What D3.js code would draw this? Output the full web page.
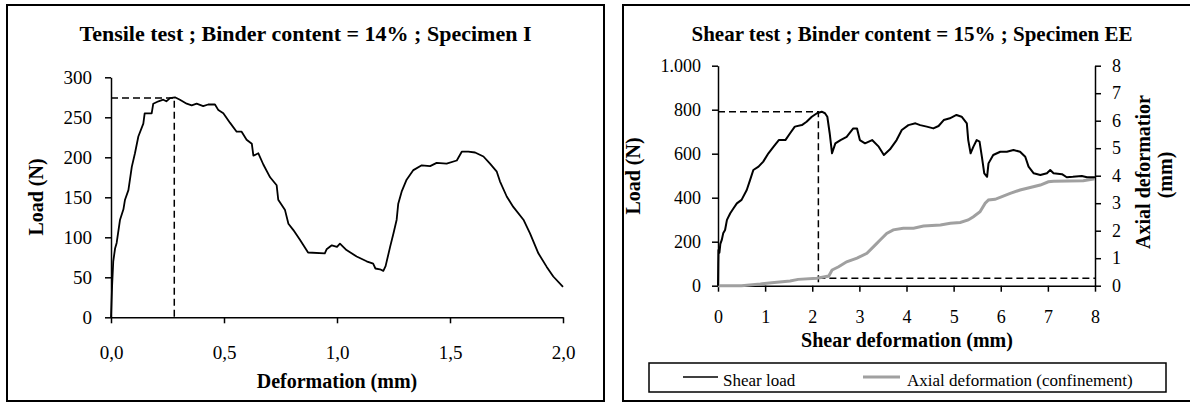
<!DOCTYPE html>
<html>
<head>
<meta charset="utf-8">
<script src="https://cdn.jsdelivr.net/npm/d3@7"></script>
<style>
body { margin: 0; background: #fff; }
text { font-family: "Liberation Serif", "Times New Roman", serif; fill: #000; }
.domain, .tick line { stroke: #000; stroke-width: 1.5; }
</style>
</head>
<body>
<svg id="chart" width="1190" height="403"></svg>
<script>
// tensile test, specimen I : deformation (mm) / load (N)
var tensileDef = [0, 0.005, 0.01, 0.018, 0.025, 0.04, 0.055, 0.062, 0.077, 0.092, 0.106, 0.121, 0.143, 0.149, 0.18, 0.187, 0.21, 0.231, 0.245, 0.261, 0.283, 0.305, 0.335, 0.357, 0.379, 0.408, 0.43, 0.46, 0.475, 0.497, 0.527, 0.556, 0.578, 0.6, 0.623, 0.63, 0.652, 0.674, 0.704, 0.733, 0.74, 0.77, 0.785, 0.807, 0.836, 0.872, 0.946, 0.954, 0.977, 1.0, 1.013, 1.042, 1.087, 1.131, 1.16, 1.17, 1.19, 1.205, 1.215, 1.235, 1.25, 1.264, 1.271, 1.286, 1.308, 1.338, 1.375, 1.412, 1.441, 1.485, 1.53, 1.552, 1.581, 1.611, 1.648, 1.677, 1.707, 1.721, 1.751, 1.78, 1.825, 1.854, 1.891, 1.928, 1.957, 2.0];
var tensileLoad = [0, 40, 70, 86, 93, 122, 135, 147, 159, 188, 205, 226, 242, 255, 255, 267, 270, 272, 270, 274, 275, 272, 267, 265, 267, 264, 266, 266, 259, 255, 243, 232, 232, 222, 217, 202, 205, 191, 175, 165, 147, 134, 117, 109, 97, 81, 80, 85, 90, 88, 92, 84, 76, 70, 67, 61, 60, 58, 64, 88, 105, 122, 142, 157, 172, 184, 190, 189, 193, 192, 196, 207, 207, 206, 201, 192, 182, 170, 151, 138, 122, 105, 80, 63, 51, 38];
var tensilePeak = [0.28, 274];
var tensileXTicks = [0, 0.5, 1, 1.5, 2];
var tensileYTicks = [0, 50, 100, 150, 200, 250, 300];

// shear test, specimen EE : shear deformation (mm) / load (N) and axial deformation (mm)
var shearDef = [0, 0.005, 0.01, 0.03, 0.05, 0.08, 0.11, 0.15, 0.19, 0.26, 0.33, 0.4, 0.5, 0.61, 0.68, 0.75, 0.86, 0.96, 1.07, 1.18, 1.29, 1.43, 1.53, 1.63, 1.78, 1.88, 1.99, 2.1, 2.2, 2.27, 2.32, 2.37, 2.42, 2.49, 2.6, 2.73, 2.87, 2.95, 3.01, 3.12, 3.27, 3.41, 3.52, 3.65, 3.79, 3.9, 4.04, 4.19, 4.29, 4.43, 4.57, 4.68, 4.79, 4.92, 5.06, 5.17, 5.28, 5.31, 5.36, 5.42, 5.49, 5.55, 5.6, 5.65, 5.71, 5.74, 5.84, 5.99, 6.13, 6.27, 6.41, 6.52, 6.59, 6.7, 6.84, 6.98, 7.05, 7.12, 7.3, 7.4, 7.53, 7.72, 7.83, 8.0];
var shearLoad = [0, 100, 162, 150, 190, 208, 238, 253, 299, 329, 352, 374, 390, 435, 480, 526, 541, 564, 602, 632, 662, 662, 693, 723, 730, 745, 768, 784, 791, 784, 768, 693, 602, 647, 662, 677, 715, 715, 662, 647, 662, 632, 594, 620, 662, 708, 730, 738, 730, 723, 715, 726, 753, 761, 776, 768, 738, 662, 602, 632, 662, 655, 586, 511, 495, 556, 594, 609, 609, 617, 609, 586, 541, 511, 503, 511, 526, 511, 507, 493, 495, 499, 493, 493];
var axialDef = [0, 0.5, 0.9, 1.14, 1.53, 1.7, 2.1, 2.35, 2.42, 2.56, 2.73, 2.95, 3.16, 3.37, 3.44, 3.58, 3.72, 3.93, 4.15, 4.36, 4.72, 4.93, 5.14, 5.31, 5.42, 5.56, 5.67, 5.74, 5.88, 6.2, 6.41, 6.84, 7.01, 7.12, 7.75, 7.97, 8.0];
var axialVal = [0, 0, 0.06, 0.11, 0.17, 0.23, 0.27, 0.35, 0.57, 0.69, 0.87, 1.0, 1.18, 1.54, 1.66, 1.9, 2.03, 2.09, 2.09, 2.17, 2.21, 2.27, 2.3, 2.39, 2.51, 2.69, 3.0, 3.12, 3.14, 3.36, 3.48, 3.66, 3.78, 3.8, 3.82, 3.88, 3.88];
var shearPeak = [2.13, 791, 0.27];
var shearXTicks = [0, 1, 2, 3, 4, 5, 6, 7, 8];
var shearYTicks = [0, 200, 400, 600, 800, 1000];
var axialTicks = [0, 1, 2, 3, 4, 5, 6, 7, 8];
var legendNames = ['Shear load', 'Axial deformation (confinement)'];

var svg = d3.select('#chart');

//panel frames
svg.append('rect').attr('x', 7).attr('y', 5).attr('width', 597).attr('height', 396)
	.attr('fill', 'none').attr('stroke', '#000').attr('stroke-width', 2);
svg.append('rect').attr('x', 623).attr('y', 5).attr('width', 580).attr('height', 396)
	.attr('fill', 'none').attr('stroke', '#000').attr('stroke-width', 2);

//---------- tensile chart ----------
var x1 = d3.scaleLinear().domain([0, 2]).range([111, 563]);
var y1 = d3.scaleLinear().domain([0, 300]).range([317.3, 77.3]);

svg.append('text').attr('x', 305.5).attr('y', 41).attr('text-anchor', 'middle')
	.style('font-size', '22px').style('font-weight', 'bold')
	.text('Tensile test ; Binder content = 14% ; Specimen I');

var ax1 = svg.append('g').attr('transform', 'translate(0,' + y1(0) + ')')
	.call(d3.axisBottom(x1).tickValues(tensileXTicks).tickSize(6).tickSizeOuter(0)
		.tickFormat(function(d) { return d3.format('.1f')(d).replace('.', ','); }));
ax1.selectAll('text').attr('y', 42).attr('dy', 0).style('font-size', '19px');

var ay1 = svg.append('g').attr('transform', 'translate(' + x1(0) + ',0)')
	.call(d3.axisLeft(y1).tickValues(tensileYTicks).tickSize(6).tickSizeOuter(0).tickPadding(13));
ay1.selectAll('text').style('font-size', '19px');

svg.append('text').attr('x', 337).attr('y', 388).attr('text-anchor', 'middle')
	.style('font-size', '20px').style('font-weight', 'bold').text('Deformation (mm)');
svg.append('text').attr('transform', 'translate(43,197) rotate(-90)').attr('text-anchor', 'middle')
	.style('font-size', '20px').style('font-weight', 'bold').text('Load (N)');

//peak marker
svg.append('path')
	.attr('d', 'M' + x1(0) + ',' + y1(tensilePeak[1]) + 'H' + x1(tensilePeak[0]) + 'V' + y1(0))
	.attr('fill', 'none').attr('stroke', '#000').attr('stroke-width', 1.5).attr('stroke-dasharray', '7,4');

var line1 = d3.line().x(function(d, i) { return x1(tensileDef[i]); }).y(function(d) { return y1(d); });
svg.append('path').attr('d', line1(tensileLoad))
	.attr('fill', 'none').attr('stroke', '#000').attr('stroke-width', 1.8).attr('stroke-linejoin', 'round');

//---------- shear chart ----------
var x2 = d3.scaleLinear().domain([0, 8]).range([718, 1095]);
var y2 = d3.scaleLinear().domain([0, 1000]).range([285.7, 65.7]);
var y3 = d3.scaleLinear().domain([0, 8]).range([285.7, 65.7]);

svg.append('text').attr('x', 912).attr('y', 41).attr('text-anchor', 'middle')
	.style('font-size', '21px').style('font-weight', 'bold')
	.text('Shear test ; Binder content = 15% ; Specimen EE');

var ax2 = svg.append('g').attr('transform', 'translate(0,' + y2(0) + ')')
	.call(d3.axisBottom(x2).tickValues(shearXTicks).tickSize(6).tickSizeOuter(0));
ax2.selectAll('text').attr('y', 37).attr('dy', 0).style('font-size', '18px');

var ay2 = svg.append('g').attr('transform', 'translate(' + x2(0) + ',0)')
	.call(d3.axisLeft(y2).tickValues(shearYTicks).tickSize(6).tickSizeOuter(0).tickPadding(11)
		.tickFormat(function(d) { return d3.format(',')(d).replace(',', '.'); }));
ay2.selectAll('text').style('font-size', '18px');

var ay3 = svg.append('g').attr('transform', 'translate(' + x2(8) + ',0)')
	.call(d3.axisRight(y3).tickValues(axialTicks).tickSize(6).tickSizeOuter(0).tickPadding(11));
ay3.selectAll('text').style('font-size', '18px');

svg.append('text').attr('x', 907).attr('y', 346.5).attr('text-anchor', 'middle')
	.style('font-size', '20px').style('font-weight', 'bold').text('Shear deformation (mm)');
svg.append('text').attr('transform', 'translate(640,176) rotate(-90)').attr('text-anchor', 'middle')
	.style('font-size', '20px').style('font-weight', 'bold').text('Load (N)');
svg.append('text').attr('transform', 'translate(1150,172) rotate(-90)').attr('text-anchor', 'middle')
	.style('font-size', '20px').style('font-weight', 'bold').text('Axial deformatior');
svg.append('text').attr('transform', 'translate(1172,175) rotate(-90)').attr('text-anchor', 'middle')
	.style('font-size', '20px').style('font-weight', 'bold').text('(mm)');

//peak markers
svg.append('path')
	.attr('d', 'M' + x2(0) + ',' + y2(shearPeak[1]) + 'H' + x2(shearPeak[0]) + 'V' + y2(0))
	.attr('fill', 'none').attr('stroke', '#000').attr('stroke-width', 1.5).attr('stroke-dasharray', '7,4');
svg.append('path')
	.attr('d', 'M' + x2(shearPeak[0]) + ',' + y3(shearPeak[2]) + 'H' + x2(8))
	.attr('fill', 'none').attr('stroke', '#000').attr('stroke-width', 1.5).attr('stroke-dasharray', '7,4');

var line3 = d3.line().x(function(d, i) { return x2(axialDef[i]); }).y(function(d) { return y3(d); });
svg.append('path').attr('d', line3(axialVal))
	.attr('fill', 'none').attr('stroke', '#a0a0a0').attr('stroke-width', 3);

var line2 = d3.line().x(function(d, i) { return x2(shearDef[i]); }).y(function(d) { return y2(d); });
svg.append('path').attr('d', line2(shearLoad))
	.attr('fill', 'none').attr('stroke', '#000').attr('stroke-width', 2).attr('stroke-linejoin', 'round');

//legend
var legend = svg.append('g');
legend.append('rect').attr('x', 649).attr('y', 363).attr('width', 517).attr('height', 29)
	.attr('fill', 'none').attr('stroke', '#000').attr('stroke-width', 1.5);
legend.append('line').attr('x1', 683).attr('x2', 718).attr('y1', 377).attr('y2', 377)
	.attr('stroke', '#000').attr('stroke-width', 1.5);
legend.append('text').attr('x', 723).attr('y', 385.5).style('font-size', '17px').text(legendNames[0]);
legend.append('line').attr('x1', 863).attr('x2', 900).attr('y1', 377).attr('y2', 377)
	.attr('stroke', '#a0a0a0').attr('stroke-width', 3);
legend.append('text').attr('x', 907).attr('y', 385.5).style('font-size', '17px').text(legendNames[1]);
</script>
</body>
</html>
